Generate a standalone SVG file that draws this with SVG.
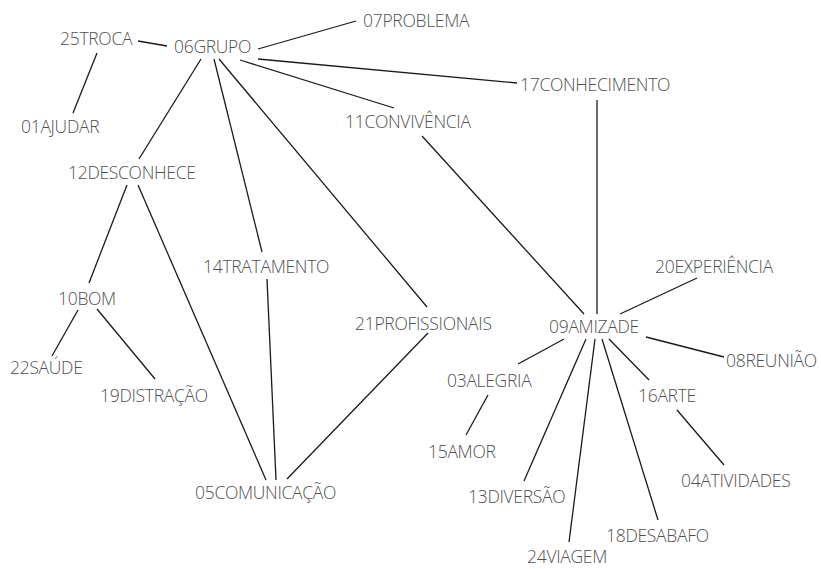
<svg xmlns="http://www.w3.org/2000/svg" width="821" height="569" viewBox="0 0 821 569">
<style>
.t{font-family:"Open Sans","Noto Sans","Liberation Sans",sans-serif;font-size:17.5px;font-weight:300;fill:#505050;letter-spacing:-0.3px}
.e line{stroke:#1a1a1a;stroke-width:1.3;fill:none}
</style>
<rect width="821" height="569" fill="#ffffff"/>
<g class="e" id="connectors">
<line x1="138" y1="41" x2="167" y2="46"/>
<line x1="97" y1="53" x2="73" y2="113"/>
<line x1="258" y1="49" x2="356" y2="21"/>
<line x1="258" y1="59" x2="517" y2="83"/>
<line x1="240" y1="60" x2="394" y2="108"/>
<line x1="201" y1="59" x2="139" y2="159"/>
<line x1="214" y1="59" x2="262" y2="252"/>
<line x1="219" y1="59" x2="427" y2="307"/>
<line x1="127" y1="185" x2="89" y2="283"/>
<line x1="138" y1="185" x2="266" y2="480"/>
<line x1="267" y1="279" x2="276" y2="480"/>
<line x1="428" y1="333" x2="287" y2="479"/>
<line x1="78" y1="310" x2="52" y2="356"/>
<line x1="97" y1="309" x2="155" y2="379"/>
<line x1="422" y1="136" x2="584" y2="314"/>
<line x1="597" y1="100" x2="597" y2="314"/>
<line x1="697" y1="278" x2="620" y2="314"/>
<line x1="646" y1="337" x2="724" y2="357"/>
<line x1="564" y1="339" x2="518" y2="364"/>
<line x1="488" y1="395" x2="466" y2="435"/>
<line x1="586" y1="339" x2="524" y2="481"/>
<line x1="595" y1="339" x2="569" y2="542"/>
<line x1="602" y1="339" x2="658" y2="520"/>
<line x1="609" y1="339" x2="649" y2="380"/>
<line x1="677" y1="410" x2="724" y2="465"/>
</g>
<g id="n25"><text class="t" x="60" y="45">25TROCA</text></g>
<g id="n06"><text class="t" x="174" y="53">06GRUPO</text></g>
<g id="n07"><text class="t" x="363" y="27">07PROBLEMA</text></g>
<g id="n01"><text class="t" x="21" y="133">01AJUDAR</text></g>
<g id="n11"><text class="t" x="345" y="128">11CONVIVÊNCIA</text></g>
<g id="n17"><text class="t" x="520" y="91">17CONHECIMENTO</text></g>
<g id="n12"><text class="t" x="68" y="179">12DESCONHECE</text></g>
<g id="n14"><text class="t" x="203" y="273">14TRATAMENTO</text></g>
<g id="n10"><text class="t" x="58" y="305">10BOM</text></g>
<g id="n21"><text class="t" x="355" y="330">21PROFISSIONAIS</text></g>
<g id="n20"><text class="t" x="655" y="273">20EXPERIÊNCIA</text></g>
<g id="n09"><text class="t" x="549" y="333">09AMIZADE</text></g>
<g id="n08"><text class="t" x="726" y="367">08REUNIÃO</text></g>
<g id="n22"><text class="t" x="10" y="374">22SAÚDE</text></g>
<g id="n03"><text class="t" x="447" y="387">03ALEGRIA</text></g>
<g id="n19"><text class="t" x="100" y="402">19DISTRAÇÃO</text></g>
<g id="n16"><text class="t" x="638" y="402">16ARTE</text></g>
<g id="n15"><text class="t" x="428" y="458">15AMOR</text></g>
<g id="n04"><text class="t" x="681" y="487">04ATIVIDADES</text></g>
<g id="n05"><text class="t" x="195" y="499">05COMUNICAÇÃO</text></g>
<g id="n13"><text class="t" x="468" y="503">13DIVERSÃO</text></g>
<g id="n18"><text class="t" x="606" y="542">18DESABAFO</text></g>
<g id="n24"><text class="t" x="527" y="563">24VIAGEM</text></g>
</svg>
